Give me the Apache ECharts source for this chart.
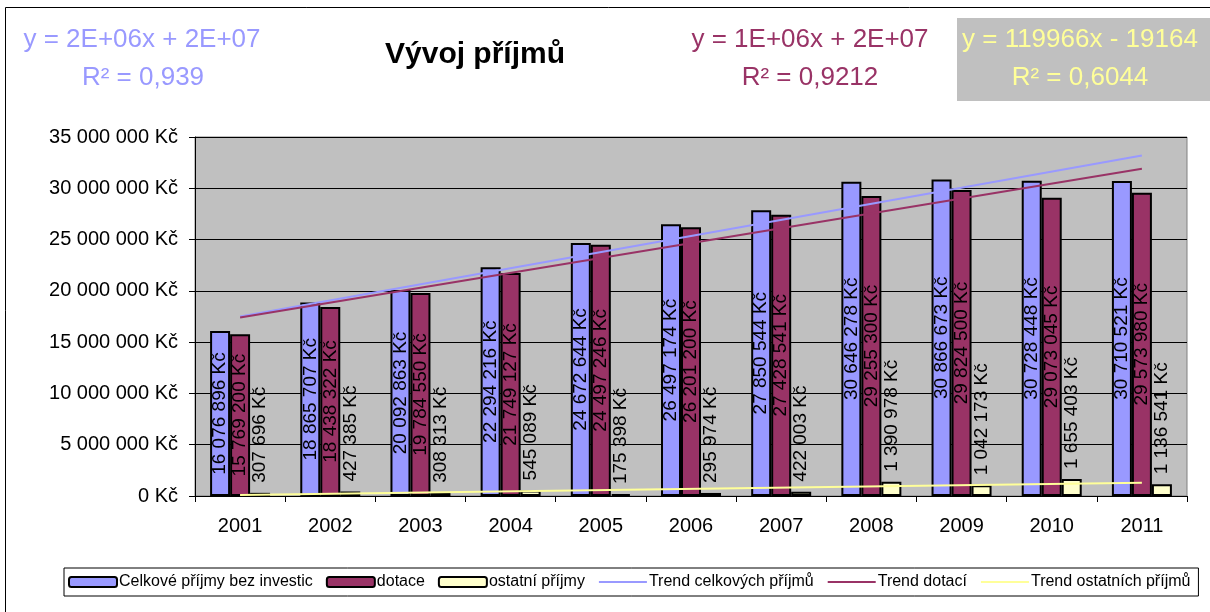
<!DOCTYPE html>
<html>
<head>
<meta charset="utf-8">
<title>Vývoj příjmů</title>
<script src="https://cdn.jsdelivr.net/npm/echarts@6/dist/echarts.min.js"></script>
<style>
    html, body { margin: 0; padding: 0; background: #fff; }
    #chart { width: 1210px; height: 612px; }
</style>
</head>
<body>
<div id="chart"></div>
<script>
// roky
const years = ['2001', '2002', '2003', '2004', '2005', '2006', '2007', '2008', '2009', '2010', '2011'];

// hodnoty sloupců
const totalIncome = [16076896, 18865707, 20092863, 22294216, 24672644, 26497174, 27850544, 30646278, 30866673, 30728448, 30710521];
const subsidies = [15769200, 18438322, 19784550, 21749127, 24497246, 26201200, 27428541, 29255300, 29824500, 29073045, 29573980];
const otherIncome = [307696, 427385, 308313, 545089, 175398, 295974, 422003, 1390978, 1042173, 1655403, 1136541];

// spojnice trendu - hodnoty na začátku (2001) a konci (2011)
const trendTotal = [17500000, 33200000];
const trendSubsidies = [17400000, 31900000];
const trendOther = [100000, 1300000];

// popisky os
const yTicks = [0, 5000000, 10000000, 15000000, 20000000, 25000000, 30000000, 35000000];

const FONT = '"Liberation Sans", Arial, sans-serif';

// formát s mezerami: 16 076 896 Kč
function kc(v) {
    return String(v).replace(/\B(?=(\d{3})+(?!\d))/g, ' ') + ' Kč';
}

// bod trendu na první a poslední kategorii
function trendData(pair) {
    return [[years[0], pair[0]], [years[years.length - 1], pair[1]]];
}

const myChart = echarts.init(document.getElementById('chart'));

const insideLabel = {
    show: true,
    position: 'inside',
    rotate: 90,
    color: '#000',
    fontSize: 19,
    fontFamily: FONT,
    formatter: (p) => kc(p.value),
};

const option = {
    backgroundColor: '#fff',
    animation: false,
    grid: {
        left: 195,
        top: 137,
        right: 23,
        bottom: 116,
        show: true,
        backgroundColor: '#C0C0C0',
        borderColor: '#808080',
        borderWidth: 1,
    },
    legend: {
        left: 64,
        top: 568,
        padding: [6, 8, 6, 4],
        itemGap: 13,
        itemWidth: 48,
        itemHeight: 10,
        borderColor: '#000',
        borderWidth: 1,
        backgroundColor: '#fff',
        textStyle: { fontSize: 16, fontFamily: FONT, color: '#000', padding: [0, 0, 0, -3] },
        data: [
            'Celkové příjmy bez investic',
            'dotace',
            'ostatní příjmy',
            // u spojnic jen čára, bez značky
            { name: 'Trend celkových příjmů', itemStyle: { opacity: 0 } },
            { name: 'Trend dotací', itemStyle: { opacity: 0 } },
            { name: 'Trend ostatních příjmů', itemStyle: { opacity: 0 } },
        ],
    },
    xAxis: {
        type: 'category',
        data: years,
        boundaryGap: true,
        axisLine: { lineStyle: { color: '#000', width: 1 } },
        axisTick: { show: true, length: 6, lineStyle: { color: '#000' } },
        axisLabel: { color: '#000', fontSize: 20, fontFamily: FONT, margin: 20 },
    },
    yAxis: {
        type: 'value',
        min: yTicks[0],
        max: yTicks[yTicks.length - 1],
        interval: yTicks[1] - yTicks[0],
        axisLine: { show: true, lineStyle: { color: '#000', width: 1 } },
        axisTick: { show: true, length: 6, lineStyle: { color: '#000' } },
        splitLine: { show: true, lineStyle: { color: '#000', width: 1 } },
        axisLabel: { color: '#000', fontSize: 20, fontFamily: FONT, margin: 17, formatter: (v) => kc(v) },
    },
    series: [
        {
            name: 'Celkové příjmy bez investic',
            type: 'bar',
            data: totalIncome,
            barWidth: 20,
            barGap: '0%',
            itemStyle: { color: '#9999FF', borderColor: '#000', borderWidth: 2 },
            label: insideLabel,
            z: 2,
        },
        {
            name: 'dotace',
            type: 'bar',
            data: subsidies,
            barWidth: 20,
            barGap: '0%',
            itemStyle: { color: '#993366', borderColor: '#000', borderWidth: 2 },
            label: insideLabel,
            z: 2,
        },
        {
            name: 'ostatní příjmy',
            type: 'bar',
            data: otherIncome,
            barWidth: 20,
            barGap: '0%',
            itemStyle: { color: '#FFFFCC', borderColor: '#000', borderWidth: 2 },
            label: {
                show: true,
                position: 'top',
                distance: 10,
                rotate: 90,
                align: 'left',
                verticalAlign: 'middle',
                color: '#000',
                fontSize: 19,
                fontFamily: FONT,
                formatter: (p) => kc(p.value),
            },
            z: 2,
        },
        {
            name: 'Trend celkových příjmů',
            type: 'line',
            data: trendData(trendTotal),
            symbol: 'none',
            lineStyle: { color: '#9999FF', width: 2 },
            itemStyle: { color: '#9999FF' },
            z: 5,
        },
        {
            name: 'Trend dotací',
            type: 'line',
            data: trendData(trendSubsidies),
            symbol: 'none',
            lineStyle: { color: '#993366', width: 2 },
            itemStyle: { color: '#993366' },
            z: 5,
        },
        {
            name: 'Trend ostatních příjmů',
            type: 'line',
            data: trendData(trendOther),
            symbol: 'none',
            lineStyle: { color: '#FFFF99', width: 2 },
            itemStyle: { color: '#FFFF99' },
            z: 5,
        },
    ],
    graphic: [
        // rámeček grafu
        {
            type: 'rect',
            shape: { x: 5.5, y: 7.5, width: 1400, height: 800 },
            style: { fill: 'none', stroke: '#000', lineWidth: 1 },
            silent: true,
            z: -1,
        },
        // nadpis
        {
            type: 'text',
            left: 385,
            top: 40,
            style: { text: 'Vývoj příjmů', font: 'bold 30px ' + FONT, fill: '#000' },
        },
        // rovnice trendu celkových příjmů
        {
            type: 'text',
            x: 142, y: 40,
            style: { text: 'y = 2E+06x + 2E+07', font: '26px ' + FONT, fill: '#9999FF', align: 'center', verticalAlign: 'middle' },
        },
        {
            type: 'text',
            x: 143, y: 78,
            style: { text: 'R² = 0,939', font: '26px ' + FONT, fill: '#9999FF', align: 'center', verticalAlign: 'middle' },
        },
        // rovnice trendu dotací
        {
            type: 'text',
            x: 810, y: 40,
            style: { text: 'y = 1E+06x + 2E+07', font: '26px ' + FONT, fill: '#993366', align: 'center', verticalAlign: 'middle' },
        },
        {
            type: 'text',
            x: 810, y: 78,
            style: { text: 'R² = 0,9212', font: '26px ' + FONT, fill: '#993366', align: 'center', verticalAlign: 'middle' },
        },
        // rovnice trendu ostatních příjmů (šedý box)
        {
            type: 'rect',
            shape: { x: 957, y: 18, width: 300, height: 83 },
            style: { fill: '#C0C0C0' },
        },
        {
            type: 'text',
            x: 962, y: 40,
            style: { text: 'y = 119966x - 19164', font: '26px ' + FONT, fill: '#FFFF99', align: 'left', verticalAlign: 'middle' },
        },
        {
            type: 'text',
            x: 1080, y: 78,
            style: { text: 'R² = 0,6044', font: '26px ' + FONT, fill: '#FFFF99', align: 'center', verticalAlign: 'middle' },
        },
    ],
};

myChart.setOption(option);
</script>
</body>
</html>
